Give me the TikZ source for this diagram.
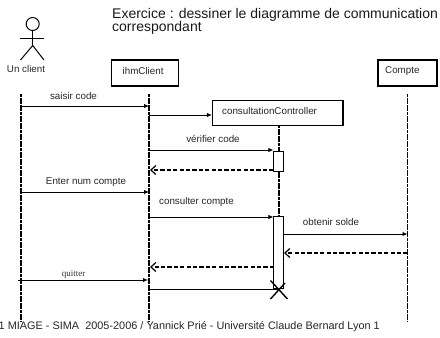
\documentclass[tikz,border=0pt]{standalone}
\usepackage{fontspec}
\setmainfont{Liberation Sans}
\newfontfamily\qfont{Liberation Serif}
\usetikzlibrary{arrows.meta}
\tikzset{
  objbox/.style={draw=black,line width=1.1pt,fill=white,inner sep=0pt},
  lifeline/.style={draw=black,line width=1.1pt,dash pattern=on 3pt off 0.6pt},
  activation/.style={draw=black,line width=1pt,fill=white,inner sep=0pt},
  callmsg/.style={draw=black,line width=0.9pt,-{Latex[length=5pt,width=4.5pt]}},
  retmsg/.style={draw=black,line width=1.2pt,dash pattern=on 4.2pt off 2.2pt,-{Straight Barb[length=5pt,width=9pt]}},
  lbl/.style={font=\fontsize{9.8}{11}\selectfont,inner sep=0pt,text=black!85},
  titletext/.style={font=\fontsize{14}{15}\selectfont,inner sep=0pt,align=left,anchor=north west,text=black!90}
}
\begin{document}
\begin{tikzpicture}[x=1pt,y=-1pt]
\useasboundingbox (0,0) rectangle (440,338);
\node[titletext] (title) at (112,8.5) {Exercice : dessiner le diagramme de communication\\[-2.5pt]correspondant};
% actor
\node[circle,draw=black,line width=1pt,minimum size=13pt,inner sep=0pt] (head) at (32.7,24) {};
\coordinate (armL) at (20,38);
\coordinate (armR) at (44,38);
\coordinate (hip) at (32.7,45.5);
\coordinate (footL) at (20.5,60);
\coordinate (footR) at (44,60);
\draw[line width=1pt] (head.south) -- (hip);
\draw[line width=1pt] (armL) -- (armR);
\draw[line width=1pt] (footL) -- (hip) -- (footR);
\node[lbl] (client) at (26,68.5) {Un client};
% objects
\node[objbox,minimum width=67pt,minimum height=26pt] (ihm) at (145,73) {};
\node[lbl,anchor=west] (ihmt) at (122.5,71) {ihmClient};
\node[objbox,minimum width=59pt,minimum height=26pt] (cpt) at (407.5,73) {};
\node[lbl,anchor=west] (cptt) at (385,71) {Compte};
\node[objbox,minimum width=130.5pt,minimum height=24.5pt] (ctl) at (277.7,113) {};
\node[lbl,anchor=west] (ctlt) at (222,111) {consultationController};
% lifeline ends
\coordinate (cT) at (21,94); \coordinate (cB) at (21,322);
\coordinate (iT) at (149,94); \coordinate (iB) at (149,322);
\coordinate (kT) at (407.5,94); \coordinate (kB) at (407.5,321);
\coordinate (tT) at (279,125); \coordinate (tB) at (279,289);
\draw[lifeline] (cT) -- (cB);
\draw[lifeline] (iT) -- (iB);
\draw[lifeline] (kT) -- (kB);
\draw[lifeline] (tT) -- (tB);
% activations
\node[activation,minimum width=9.5pt,minimum height=20pt] (a1) at (278.7,161) {};
\node[activation,minimum width=9.5pt,minimum height=72pt] (a2) at (278.7,252) {};
% message ends
\coordinate (m1a) at (21,106); \coordinate (m1b) at (149,106);
\coordinate (m2a) at (149,115);
\coordinate (m3a) at (149,150);
\coordinate (m4b) at (150,170);
\coordinate (m5a) at (21,192); \coordinate (m5b) at (149,192);
\coordinate (m6a) at (149,217);
\coordinate (m7a) at (283.5,234); \coordinate (m7b) at (407.5,234);
\coordinate (m8a) at (407.5,253); \coordinate (m8b) at (284,253);
\coordinate (m9a) at (274,267); \coordinate (m9b) at (150,267);
\coordinate (m10a) at (18,280); \coordinate (m10b) at (148,280);
\coordinate (m11a) at (149,289); \coordinate (xc) at (279,289);
\draw[callmsg] (m1a) -- (m1b);
\draw[callmsg] (m2a) -- (ctl.west |- m2a);
\draw[callmsg] (m3a) -- (a1.west |- m3a);
\draw[retmsg] (a1.west |- m4b) -- (m4b);
\draw[callmsg] (m5a) -- (m5b);
\draw[callmsg] (m6a) -- (a2.west |- m6a);
\draw[callmsg] (m7a) -- (m7b);
\draw[retmsg] (m8a) -- (m8b);
\draw[retmsg] (m9a) -- (m9b);
\draw[callmsg] (m10a) -- (m10b);
\draw[line width=0.9pt] (m11a) -- (xc);
% destruction cross
\coordinate (x1) at (270.5,280.5); \coordinate (x2) at (287.5,299);
\coordinate (x3) at (270.5,299); \coordinate (x4) at (285,283);
\draw[line width=1.4pt] (x1) -- (x2);
\draw[line width=1.4pt] (x3) -- (x4);
% labels
\node[lbl] (l1) at (73.5,96) {saisir code};
\node[lbl] (l3) at (213,139) {vérifier code};
\node[lbl] (l5) at (86,182) {Enter num compte};
\node[lbl] (l6) at (196.5,202) {consulter compte};
\node[lbl] (l7) at (331,222) {obtenir solde};
\node[inner sep=0pt,font=\qfont\fontsize{9}{10}\selectfont,text=black!80] (l10) at (73.5,274) {quitter};
\node[font=\fontsize{10.9}{12}\selectfont,inner sep=0pt,text=black!85,anchor=west] (foot) at (-1.5,326.5) {1 MIAGE - SIMA\ \ 2005-2006 / Yannick Prié - Université Claude Bernard Lyon 1};
\end{tikzpicture}
\end{document}
